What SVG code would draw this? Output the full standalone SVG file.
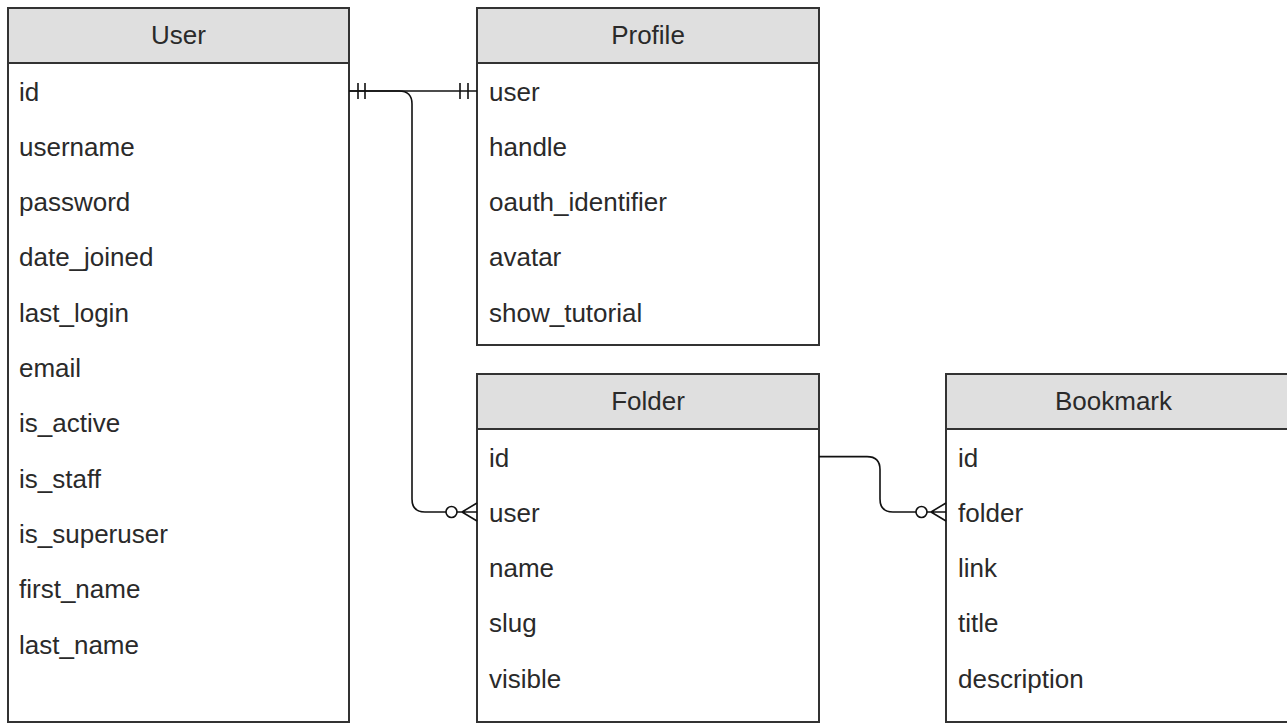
<svg xmlns="http://www.w3.org/2000/svg" width="1287" height="724" viewBox="0 0 1287 724">
  <style>
    .box { fill: #ffffff; stroke: #333333; stroke-width: 2; }
    .head { fill: #dfdfdf; stroke: #333333; stroke-width: 2; }
    .title { font-family: "Liberation Sans", Arial, Helvetica, sans-serif; font-size: 26px; fill: #2a2a2a; text-anchor: middle; }
    .field { font-family: "Liberation Sans", Arial, Helvetica, sans-serif; font-size: 26px; fill: #2a2a2a; }
    .link { fill: none; stroke: #111111; stroke-width: 1.6; }
    .ring { fill: #ffffff; stroke: #111111; stroke-width: 1.6; }
  </style>

  <!-- User entity -->
  <g id="user">
    <rect class="box" x="8" y="8" width="341" height="714"/>
    <rect class="head" x="8" y="8" width="341" height="55"/>
    <text class="title" x="178.5" y="44">User</text>
    <text class="field" x="19" y="100.5">id</text>
    <text class="field" x="19" y="155.8">username</text>
    <text class="field" x="19" y="211.1">password</text>
    <text class="field" x="19" y="266.4">date_joined</text>
    <text class="field" x="19" y="321.7">last_login</text>
    <text class="field" x="19" y="377">email</text>
    <text class="field" x="19" y="432.3">is_active</text>
    <text class="field" x="19" y="487.6">is_staff</text>
    <text class="field" x="19" y="542.9">is_superuser</text>
    <text class="field" x="19" y="598.2">first_name</text>
    <text class="field" x="19" y="653.5">last_name</text>
  </g>

  <!-- Profile entity -->
  <g id="profile">
    <rect class="box" x="477" y="8" width="342" height="337"/>
    <rect class="head" x="477" y="8" width="342" height="55"/>
    <text class="title" x="648" y="44">Profile</text>
    <text class="field" x="489" y="100.5">user</text>
    <text class="field" x="489" y="155.8">handle</text>
    <text class="field" x="489" y="211.1">oauth_identifier</text>
    <text class="field" x="489" y="266.4">avatar</text>
    <text class="field" x="489" y="321.7">show_tutorial</text>
  </g>

  <!-- Folder entity -->
  <g id="folder">
    <rect class="box" x="477" y="374" width="342" height="348"/>
    <rect class="head" x="477" y="374" width="342" height="55"/>
    <text class="title" x="648" y="410">Folder</text>
    <text class="field" x="489" y="466.5">id</text>
    <text class="field" x="489" y="521.8">user</text>
    <text class="field" x="489" y="577.1">name</text>
    <text class="field" x="489" y="632.4">slug</text>
    <text class="field" x="489" y="687.7">visible</text>
  </g>

  <!-- Bookmark entity -->
  <g id="bookmark">
    <rect class="box" x="946" y="374" width="350" height="348"/>
    <rect class="head" x="946" y="374" width="350" height="55"/>
    <text class="title" x="1113.5" y="410">Bookmark</text>
    <text class="field" x="958" y="466.5">id</text>
    <text class="field" x="958" y="521.8">folder</text>
    <text class="field" x="958" y="577.1">link</text>
    <text class="field" x="958" y="632.4">title</text>
    <text class="field" x="958" y="687.7">description</text>
  </g>

  <!-- Relationships -->
  <g id="connectors">
    <!-- User.id one-to-one Profile.user -->
    <path class="link" d="M349,91 H477"/>
    <path class="link" d="M358,83 V99 M365,83 V99"/>
    <path class="link" d="M460,83 V99 M468,83 V99"/>

    <!-- User.id one-to-many Folder.user -->
    <path class="link" d="M349,91 H399 Q412,91 412,104 V499 Q412,512 425,512 H446"/>
    <circle class="ring" cx="451.5" cy="512" r="5.5"/>
    <path class="link" d="M457,512 H477 M462,512 L477,503 M462,512 L477,521"/>

    <!-- Folder.id one-to-many Bookmark.folder -->
    <path class="link" d="M819,456.6 H867 Q880,456.6 880,469.6 V499 Q880,512 893,512 H916"/>
    <circle class="ring" cx="921.5" cy="512" r="5.5"/>
    <path class="link" d="M927,512 H946 M931,512 L946,503 M931,512 L946,521"/>
  </g>
</svg>
